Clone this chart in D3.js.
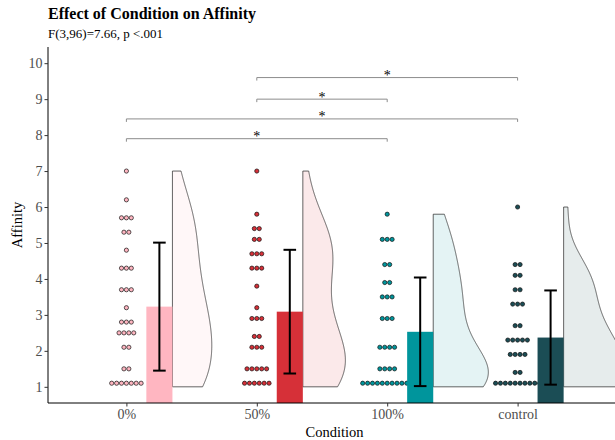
<!DOCTYPE html>
<html><head><meta charset="utf-8">
<script src="https://cdn.jsdelivr.net/npm/d3@7"></script>
<style>body{margin:0;background:#fff}svg{display:block;font-family:"Liberation Serif","Times New Roman",serif}</style>
</head><body><svg id="c" width="615" height="440"></svg>
<script>
// ---------------- data ----------------
const categories = ["0%", "50%", "100%", "control"];
const groupColors = ["#ffb6c1", "#d63038", "#00959c", "#1b4d55"];
// dot-plot rows: [value, number of dots]
const dots0 = [[7.0,1],[6.2,1],[5.7,3],[5.3,2],[4.8,1],[4.3,3],[3.7,3],[3.2,1],[2.8,3],[2.5,4],[2.1,2],[1.5,2],[1.1,7]];
const dots50 = [[7.0,1],[5.8,1],[5.4,2],[5.1,2],[4.7,3],[4.3,3],[3.8,1],[3.2,1],[2.9,3],[2.4,2],[2.1,3],[1.5,5],[1.1,6]];
const dots100 = [[5.8,1],[5.1,3],[4.4,2],[3.9,2],[3.5,3],[2.9,3],[2.1,4],[1.5,4],[1.1,11]];
const dotsControl = [[6.0,1],[4.4,2],[4.1,2],[3.7,2],[3.3,3],[2.7,2],[2.3,5],[1.9,4],[1.4,2],[1.1,10]];
const means = [3.23, 3.09, 2.53, 2.37];
const sds = [1.78, 1.72, 1.51, 1.31];
const scaleMin = 1;
const yTicks = [1, 2, 3, 4, 5, 6, 7, 8, 9, 10];
const comparisons = [["0%", "100%"], ["0%", "control"], ["50%", "100%"], ["50%", "control"]];
const bracketHeights = [7.9, 8.45, 9.0, 9.6];
const sigLabels = ["*", "*", "*", "*"];
const titleText = "Effect of Condition on Affinity";
const subtitleText = "F(3,96)=7.66, p <.001";
const xTitle = "Condition";
const yTitle = "Affinity";

// ---------------- layout ----------------
const svg = d3.select("#c");
const L = 48, R = 621, T = 47, B = 403;
const x = d3.scalePoint().domain(categories).range([126.4, 517.6]);
const step = x.step();
const y = d3.scaleLinear().domain([0.55, 10.45]).range([B, T]);
const groups = [dots0, dots50, dots100, dotsControl];

svg.append("defs").append("clipPath").attr("id", "panel")
  .append("rect").attr("x", L).attr("y", T).attr("width", R - L).attr("height", B - T);
const g = svg.append("g").attr("clip-path", "url(#panel)");

// ---------------- violins (half, gaussian KDE, bw.nrd0 * adjust) ----------------
const bwAdjust = 1.15;
function expand(rows) { const v = []; rows.forEach(([val, n]) => { for (let i = 0; i < n; i++) v.push(val); }); return v; }
function nrd0(v) {
  const s = d3.deviation(v);
  const sorted = v.slice().sort(d3.ascending);
  const iqr = d3.quantile(sorted, 0.75) - d3.quantile(sorted, 0.25);
  const lo = Math.min(s, iqr / 1.34);
  return 0.9 * lo * Math.pow(v.length, -0.2);
}
const dens = groups.map(rows => {
  const v = expand(rows);
  const bw = nrd0(v) * bwAdjust;
  const lo = scaleMin, hi = d3.max(v);
  return d3.range(512).map(i => {
    const t = lo + (hi - lo) * i / 511;
    const d = d3.mean(v, xi => Math.exp(-0.5 * ((t - xi) / bw) ** 2)) / (bw * Math.sqrt(2 * Math.PI));
    return [t, d];
  });
});
const maxDens = d3.max(dens, p => d3.max(p, d => d[1]));
const violinWidth = 0.47 * step;
const violinFill = ["#fff7f8", "#fbe9ea", "#e4f3f4", "#e6ecec"];
dens.forEach((pts, i) => {
  const vx = x(categories[i]) + 0.353 * step;
  const path = d3.line().x(d => vx + violinWidth * d[1] / maxDens).y(d => y(d[0]));
  const poly = [[pts[0][0], 0]].concat(pts).concat([[pts[pts.length - 1][0], 0]]);
  g.append("path").attr("d", path(poly) + "Z")
    .attr("fill", violinFill[i]).attr("stroke", "#222").attr("stroke-width", 0.7);
});

// ---------------- dots ----------------
const dotStep = 4.9;
groups.forEach((rows, i) => {
  const cx = x(categories[i]);
  rows.forEach(([val, n]) => {
    for (let k = 0; k < n; k++) {
      g.append("circle").attr("cx", cx + (k - (n - 1) / 2) * dotStep).attr("cy", y(val))
        .attr("r", 2.1).attr("fill", groupColors[i]).attr("stroke", "#111").attr("stroke-width", 0.7);
    }
  });
});

// ---------------- bars + error bars ----------------
const barW = 0.2 * step;
categories.forEach((c, i) => {
  const bc = x(c) + 0.253 * step;
  g.append("rect").attr("x", bc - barW / 2).attr("width", barW)
    .attr("y", y(means[i])).attr("height", y(0) - y(means[i])).attr("fill", groupColors[i]);
});
categories.forEach((c, i) => {
  const bc = x(c) + 0.253 * step;
  const top = y(means[i] + sds[i]), bot = y(means[i] - sds[i]);
  const e = g.append("g").attr("stroke", "#000").attr("stroke-width", 2);
  e.append("line").attr("x1", bc).attr("x2", bc).attr("y1", top).attr("y2", bot);
  e.append("line").attr("x1", bc - 6.3).attr("x2", bc + 6.3).attr("y1", top).attr("y2", top);
  e.append("line").attr("x1", bc - 6.3).attr("x2", bc + 6.3).attr("y1", bot).attr("y2", bot);
});

// ---------------- significance brackets ----------------
comparisons.forEach(([a, b], i) => {
  const yy = y(bracketHeights[i]);
  const x1 = x(a), x2 = x(b);
  g.append("path").attr("d", `M${x1},${yy + 3}V${yy}H${x2}V${yy + 3}`)
    .attr("fill", "none").attr("stroke", "#8c8c8c").attr("stroke-width", 1);
  svg.append("text").attr("x", (x1 + x2) / 2).attr("y", yy + 2.5).attr("text-anchor", "middle")
    .style("font-size", "14px").style("font-family", "Liberation Serif").attr("fill", "#000").text(sigLabels[i]);
});

// ---------------- axes ----------------
const yAxis = d3.axisLeft(y).tickValues(yTicks).tickSize(3.5).tickPadding(2);
const ya = svg.append("g").attr("transform", `translate(${L},0)`).call(yAxis)
  .attr("font-size", null).attr("font-family", null);
ya.select(".domain").attr("d", `M0,${T}V${B}`).attr("stroke", "#000");
ya.selectAll(".tick line").attr("stroke", "#333");
ya.selectAll(".tick text").style("font-size", "14px").style("font-family", "Liberation Serif").attr("fill", "#4d4d4d");

const xAxis = d3.axisBottom(x).tickSize(3.5).tickPadding(3);
const xa = svg.append("g").attr("transform", `translate(0,${B})`).call(xAxis)
  .attr("font-size", null).attr("font-family", null);
xa.select(".domain").attr("d", `M${L},0H${R}`).attr("stroke", "#000");
xa.selectAll(".tick line").attr("stroke", "#333");
xa.selectAll(".tick text").style("font-size", "14px").style("font-family", "Liberation Serif").attr("fill", "#4d4d4d");

svg.append("text").attr("x", (L + R) / 2).attr("y", 437).attr("text-anchor", "middle")
  .style("font-size", "14.5px").attr("fill", "#000").text(xTitle);
svg.append("text").attr("transform", `translate(22,${(T + B) / 2}) rotate(-90)`).attr("text-anchor", "middle")
  .style("font-size", "14.5px").attr("fill", "#000").text(yTitle);

svg.append("text").attr("x", L).attr("y", 19).style("font-size", "16px").attr("font-weight", "bold")
  .attr("fill", "#000").text(titleText);
svg.append("text").attr("x", L).attr("y", 38).style("font-size", "13px").attr("fill", "#000").text(subtitleText);
</script></body></html>
